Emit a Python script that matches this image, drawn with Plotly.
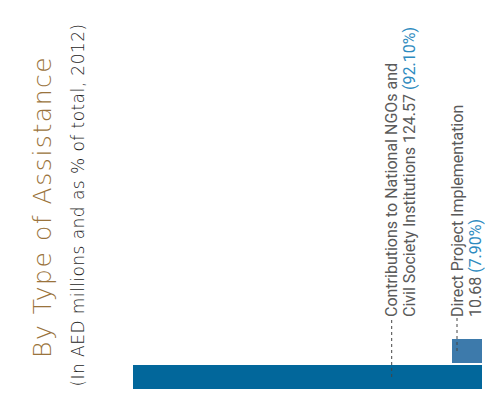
import plotly.graph_objects as go

values = [124.57, 10.68]
percents = ["92.10%", "7.90%"]
label_lines = [
    ["Contributions to National NGOs and", "Civil Society Institutions"],
    ["Direct Project Implementation", ""],
]
bar_colors = ["#02679B", "#3D7AAB"]
title = "By Type of Assistance"
subtitle = "(In AED millions and as % of total, 2012)"

OFF = 8  # page body margin
W, H = 493 - OFF, 405 - OFF
L, R, T, B = 133, 482, 20, 389  # in screen pixels
UNIT = 26.0
BW = 24 / UNIT
y0 = -BW / 2
y1 = y0 + (B - T) / UNIT
xmax = max(values)

def px(p):
    return (p - L) / (R - L)

def py(p):
    return (B - p) / (B - T)

def dx(p):
    return (R - p) / (R - L) * xmax

def dy(p):
    return (B - p) / UNIT + y0

fig = go.Figure()
fig.add_trace(go.Bar(
    x=values, y=[0, 1], orientation="h", width=BW,
    marker=dict(color=bar_colors, line=dict(width=0)),
    hoverinfo="skip", showlegend=False,
))

label_font = dict(family="Roboto", size=16, color="#5A5A5A", weight=400)
line_centers = [(391, 409), (457, 475)]
leader_x = [391.7, 457]
text_bottom = 319

for i, ((l1, l2), v, p) in enumerate(zip(label_lines, values, percents)):
    tail = f"{v:.2f} <span style='color:#2E8BC0'>({p})</span>"
    second = (l2 + " " + tail) if l2 else tail
    for txt, cx in zip([l1, second], line_centers[i]):
        fig.add_annotation(
            text=txt, textangle=-90, xref="paper", yref="paper",
            x=px(cx), y=py(text_bottom), xanchor="center", yanchor="bottom",
            showarrow=False, font=label_font,
        )
    fig.add_shape(
        type="line", xref="x", yref="y",
        x0=dx(leader_x[i]), x1=dx(leader_x[i]), y0=i, y1=dy(318),
        line=dict(color="#444444", width=1, dash="dot"),
    )

fig.add_annotation(
    text=f"<span style='letter-spacing:1.55px'>{title}</span>", textangle=-90,
    xref="paper", yref="paper",
    x=px(42), y=py(360), xanchor="center", yanchor="bottom",
    showarrow=False, font=dict(family="DejaVu Sans", size=25, color="#9A733C", weight=200),
)
fig.add_annotation(
    text=f"<span style='letter-spacing:0.45px'>{subtitle}</span>", textangle=-90,
    xref="paper", yref="paper",
    x=px(77), y=py(389), xanchor="center", yanchor="bottom",
    showarrow=False, font=dict(family="DejaVu Sans", size=17, color="#1E1E1E", weight=200),
)

fig.update_xaxes(range=[xmax, 0], visible=False, fixedrange=True)
fig.update_yaxes(range=[y0, y1], visible=False, fixedrange=True)
fig.update_layout(
    width=W, height=H,
    margin=dict(l=L - OFF, r=493 - R, t=T - OFF, b=405 - B),
    paper_bgcolor="white", plot_bgcolor="white", bargap=0,
)
fig.write_html("out.html", config={"displayModeBar": False})
